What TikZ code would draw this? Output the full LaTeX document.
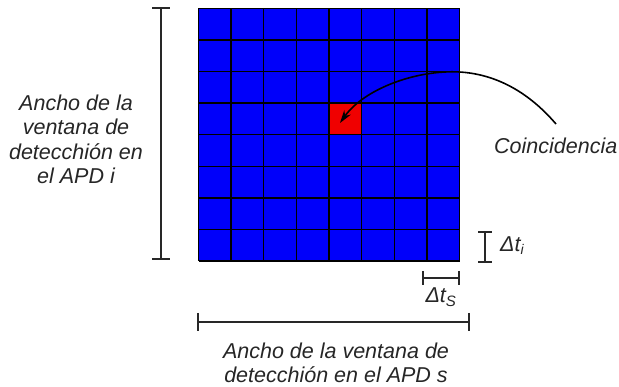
\documentclass[tikz,border=0pt]{standalone}
\usepackage{fontspec}
\setmainfont{Liberation Sans}
\usetikzlibrary{arrows.meta}
\definecolor{gridblue}{RGB}{0,0,250}
\definecolor{cellred}{RGB}{240,0,0}
\definecolor{bargray}{RGB}{40,40,40}
\tikzset{
  lbl/.style={font=\fontsize{21.5}{24.5}\selectfont\itshape, text=black!85, inner sep=0pt, align=center},
  dimbar/.style={draw=bargray, line width=1.8pt},
}
\begin{document}
\begin{tikzpicture}[x=1pt,y=-1pt]
\useasboundingbox (0,0) rectangle (619,387);
% grid
\fill[gridblue] (198.5,8.5) rectangle (459.5,261);
\node[fill=cellred, minimum width=32.6pt, minimum height=31.6pt, inner sep=0pt, draw=none] (red) at (345.4,119.2) {};
\foreach \i in {0,...,8} {
  \draw[black, line width=1.4pt] ({198.5+\i*32.625},8.5) -- ({198.5+\i*32.625},261);
  \draw[black, line width=1.4pt] (198.5,{8.5+\i*31.5625}) -- (459.5,{8.5+\i*31.5625});
}
% left dimension
\coordinate (lt) at (161,8);
\coordinate (lb) at (161,259);
\draw[dimbar] (lt) -- (lb);
\draw[dimbar] (152,8) -- (170,8);
\draw[dimbar] (152,259) -- (170,259);
% bottom dimension
\coordinate (bl) at (198,322);
\coordinate (br) at (469,322);
\draw[dimbar] (bl) -- (br);
\draw[dimbar] (198,313) -- (198,331);
\draw[dimbar] (469,313) -- (469,331);
% delta t_i
\coordinate (it) at (485,232);
\coordinate (ib) at (485,262);
\draw[dimbar] (it) -- (ib);
\draw[dimbar] (478,232) -- (492,232);
\draw[dimbar] (478,262) -- (492,262);
% delta t_s
\coordinate (sl) at (423,278);
\coordinate (sr) at (459,278);
\draw[dimbar] (sl) -- (sr);
\draw[dimbar] (423,271) -- (423,285);
\draw[dimbar] (459,271) -- (459,285);
% labels
\node[lbl] (left) at (76,139.5) {Ancho de la\\ventana de\\detecchión en\\el APD i};
\node[lbl] (bottom) at (336,363) {Ancho de la ventana de\\detecchión en el APD s};
\node[lbl, anchor=west] (coin) at (494,146) {Coincidencia};
\node[lbl, anchor=west] (dti) at (500,246) {Δt\textsubscript{\fontsize{14}{14}\selectfont i}};
\node[lbl] (dts) at (441,297) {Δt\textsubscript{S}};
% arrow
\coordinate (cs) at (556,124);
\coordinate (tip) at (340,123);
\draw[black, line width=1.6pt, -{Stealth[length=13pt,width=8pt]}] (cs) .. controls (520,82) and (480,70) .. (445,72) .. controls (405,74) and (362,92) .. (tip);
\end{tikzpicture}
\end{document}
